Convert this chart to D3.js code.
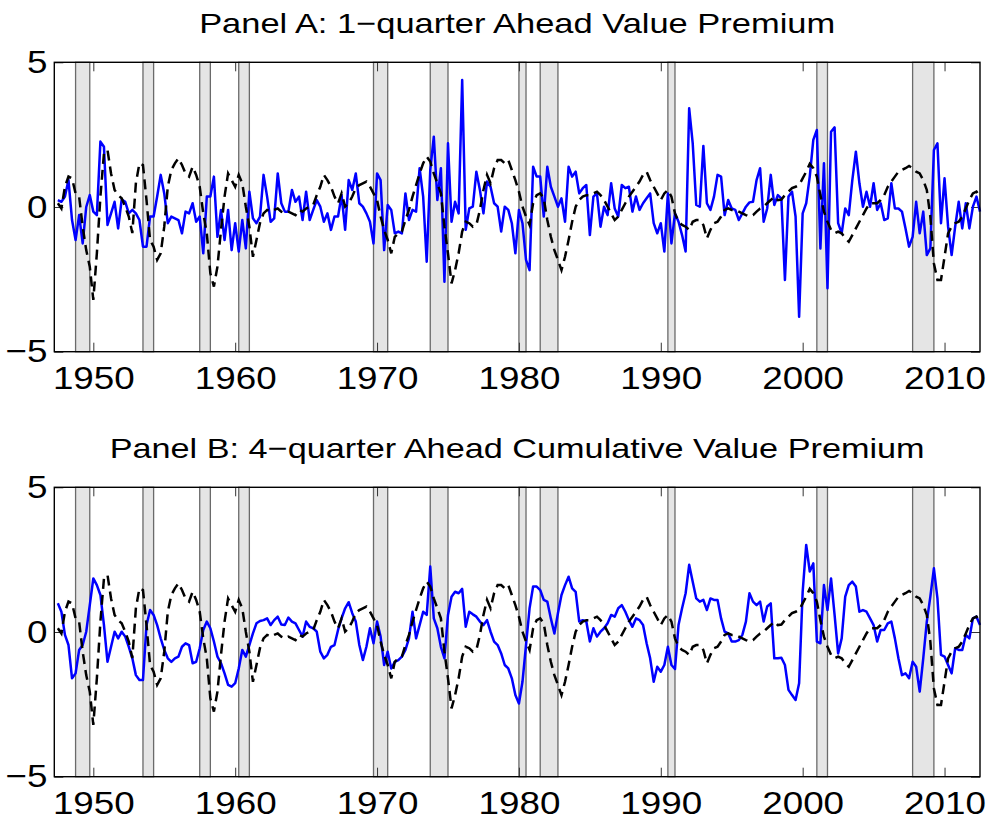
<!DOCTYPE html>
<html>
<head>
<meta charset="utf-8">
<script src="https://cdn.jsdelivr.net/npm/d3@7"></script>
<style>
  body { margin: 0; background: #fff }
  svg { display: block; font-family: 'Liberation Sans', Helvetica, Arial, sans-serif }
</style>
</head>
<body>
<svg id="chart" width="988" height="823"></svg>
<script>
// quarterly observations, first one at 1947.5, one every quarter
var firstQuarter = 1947.5

// Panel A, blue: 1-quarter ahead value premium
var premium1q = [
  0.24, 0.18, 0.36, 0.93, -0.45, -1.14, -0.28, -1.26, 0.0, 0.41,
  -0.16, -0.28, 2.26, 2.08, -0.62, -0.22, 0.18, -0.74, 0.26, 0.18,
  -0.22, -0.10, -0.22, -0.45, -1.37, -1.37, -0.33, -0.33, 0.36, 1.11,
  0.47, -0.56, -0.33, -0.39, -0.45, -0.91, -0.16, -0.22, 0.13, -0.51,
  -0.33, -1.60, 0.36, 0.36, 1.05, -1.03, -0.10, -1.14, -0.10, -1.49,
  -0.56, -1.54, -0.45, -1.43, 0.53, -0.39, -0.56,
  -0.33, 1.11, 0.36, -0.51, -0.39, 1.16, 0.13, -0.16, -0.16, 0.59,
  0.18, 0.36, -0.45, 0.53, -0.45, -0.10, 0.24, 0.01, -0.51, -0.22,
  -0.79, -0.33, -0.33, 0.41, -0.79, 0.93, 0.59, 1.16, 0.13, 0.01,
  -0.22, -0.51, -1.26, 1.16, 0.93, -1.49, 0.07, -0.10, -0.91, -0.85,
  -0.91, 0.47, -0.45, -0.10, -0.16, 1.34, 0.36, -1.89, 1.28, 2.43,
  0.24, 1.34, -2.58, 2.20, -0.51, 0.18, -0.22, 4.39, -0.79, -0.05,
  0.01, 1.22, 0.59, -0.22, 0.88, 0.70, 0.13, 0.01, -0.85, 0.01,
  -0.10, -0.56, -1.60, -0.10,
  -0.56, -1.83, -2.18, 1.39, 1.05, 1.05, -0.33, 1.39, 0.70, 0.36,
  0.01, 0.30, -0.51, 1.39, 1.05, 1.22, 0.47, 0.65, 0.76, -0.97,
  0.36, 0.47, -0.68, 0.01, -0.28, 0.82, -0.05, -0.33, 0.76, 0.65,
  0.70, -0.16, 0.36, -0.10, 0.13, 0.30, 0.47, -0.56, -0.91, -0.56,
  -1.54, 0.47, -1.26, -0.22, -0.51, -0.97, -1.54, 3.41, 2.20, 0.07,
  0.01, 2.11, 0.13, -0.10, 0.36, 1.11, 1.05, -0.28, 0.24, -0.05,
  -0.10, -0.45, -0.22, 0.01, 0.16, 0.18, 0.93, 1.34,
  -0.51, -0.05, 1.11, 0.07, 0.41, 0.30, -2.52, 0.36, 0.53, -0.33,
  -3.79, -0.22, 0.13, 1.05, 2.32, 2.66, -1.43, 1.51, -2.81, 2.60,
  2.75, -0.56, -0.91, -0.05, -0.28, 0.93, 1.91, 0.82, 0.01, 0.53,
  0.01, 0.82, -0.10, 0.13, -0.45, -0.39, 0.82, -0.05, -0.05, -0.16,
  -0.74, -1.37, -1.03, 0.18, -0.91, -0.16, -1.66, -1.43, 1.97, 2.20,
  -0.56, 0.99, -0.68, -1.66, -0.68, 0.18, -0.74, 0.13, -0.74, 0.01,
  0.36, -0.16
]

// Panel B, blue: 4-quarter ahead cumulative value premium
var premium4q = [
  0.99, 0.70, -0.10, -0.45, -1.60, -1.43, -0.62, -0.45, 0.01, 0.93,
  1.85, 1.62, 1.28, 0.24, -1.03, -0.51, 0.01, -0.22, 0.01, -0.16,
  -0.51, -0.91, -1.49, -1.66, -1.66, 0.24, 0.76, 0.59, 0.24, -0.22,
  -0.62, -0.91, -1.03, -0.91, -0.85, -0.51, -0.39, -0.45, -1.08, -1.03,
  -0.56, 0.07, 0.36, 0.13, -0.33, -0.85, -1.08, -1.43, -1.83, -1.89,
  -1.77, -1.26, -0.62, -0.85, -0.45, -0.05, 0.30,
  0.38, 0.41, 0.47, 0.24, 0.41, 0.53, 0.26, 0.24, 0.50, 0.36,
  0.30, 0.07, -0.16, 0.36, 0.18, 0.13, 0.01, -0.68, -0.91, -0.79,
  -0.51, -0.45, 0.07, 0.47, 0.82, 1.03, 0.65, 0.36, -0.45, -0.97,
  -0.51, 0.13, -0.39, 0.36, -0.16, -1.14, -0.68, -1.26, -1.03, -0.97,
  -0.85, -0.62, -0.22, 0.70, -0.22, 0.24, 0.70, 0.59, 2.26, 0.47,
  0.13, -0.51, -0.91, 0.59, 1.22, 1.39, 1.34, 1.49, 0.18, 0.70,
  0.61, 0.53, 0.36, 0.24, 0.41, 0.01, -0.33, -0.45, -0.74, -1.14,
  -1.26, -1.60, -2.18, -2.47,
  -1.72, -0.45, 0.82, 1.57, 1.57, 1.45, 1.11, 1.05, 0.47, -0.05,
  0.65, 1.28, 1.62, 1.91, 1.51, 1.39, 0.36, 0.41, 0.36, -0.33,
  0.13, -0.16, 0.01, 0.13, 0.30, 0.59, 0.53, 0.82, 0.93, 0.70,
  0.41, 0.18, 0.47, 0.41, 0.24, -0.39, -0.91, -1.72, -1.20, -1.37,
  -1.14, -0.51, -1.14, -1.28, 0.24, 0.82, 1.34, 2.32, 1.74, 1.16,
  1.05, 1.11, 0.76, 1.16, 1.11, 1.11, 0.47, 0.01, -0.05, -0.33,
  -0.33, -0.28, -0.10, 0.36, 1.34, 1.05, 0.93, 1.05,
  0.36, 0.88, 0.99, -0.91, -0.91, -0.89, -1.14, -2.00, -2.18, -2.35,
  -1.77, 1.39, 3.01, 2.09, 2.37, -0.33, -0.39, 1.62, 0.76, 1.85,
  0.59, -0.74, -0.22, 1.22, 1.62, 1.74, 1.57, 0.70, 0.76, 0.70,
  0.47, 0.24, -0.33, 0.07, 0.07, 0.30, 0.36, -0.22, -0.91, -1.49,
  -1.43, -1.60, -1.03, -1.20, -2.06, -0.91, 0.36, 1.22, 2.20, 1.16,
  -0.79, -0.85, -1.14, -1.43, -0.56, -0.62, -0.62, -0.10, -0.22, 0.47,
  0.53, 0.24
]

// black dashed line, same in both panels
var fitted = [
  0.13, -0.05, 0.70, 1.05, 0.99, 0.47, 0.36, -0.68, -1.49, -2.06,
  -3.21, -1.60, 0.36, 1.85, 1.97, 1.16, 0.59, 0.41, 0.30, 0.01,
  -0.33, -0.90, 0.82, 1.51, 1.45, 0.24, -1.14, -1.37, -1.83, -1.60,
  -0.68, 0.70, 1.28, 1.51, 1.68, 1.45, 1.16, 1.05, 1.39, 1.11,
  0.70, -0.22, -0.91, -2.29, -2.75, -2.06, -0.79, 0.36, 1.16, 0.93,
  0.70, 1.11, 0.82, 0.01, -0.68, -1.72, -1.14,
  -0.55, -0.22, -0.10, -0.16, -0.10, -0.05, -0.16, -0.22, -0.16, -0.22,
  -0.28, -0.10, -0.16, -0.05, 0.01, 0.07, 0.41, 0.70, 1.11, 0.93,
  0.70, 0.36, 0.13, 0.47, 0.01, 0.13, 0.36, 0.65, 0.76, 0.82,
  0.88, 0.70, 0.47, 0.24, -0.33, -0.79, -1.14, -1.60, -1.03, -0.91,
  -0.85, -0.45, -0.10, 0.36, 0.76, 1.16, 1.51, 1.74, 1.57, 1.16,
  0.82, 0.47, -0.68, -1.60, -2.64, -2.18, -1.60, -0.85, -0.51, -0.56,
  -0.68, -0.62, -0.10, 0.59, 1.11, 0.82, 1.34, 1.62, 1.62, 1.51,
  1.62, 1.28, 0.93, 0.53,
  0.01, -0.33, -0.62, 0.13, 0.41, 0.47, 0.30, -0.45, -1.03, -1.49,
  -1.83, -2.18, -1.72, -1.14, -0.51, 0.01, 0.24, 0.36, 0.41, 0.41,
  0.47, 0.53, 0.41, 0.24, 0.01, -0.22, -0.45, -0.33, -0.10, 0.13,
  0.36, 0.53, 0.70, 0.88, 1.11, 1.22, 0.93, 0.70, 0.47, 0.24,
  0.47, 0.59, 0.36, -0.22, -0.51, -0.62, -0.68, -0.79, -0.51, -0.45,
  -0.45, -0.62, -1.08, -0.79, -0.56, -0.51, -0.33, -0.10, -0.05, -0.10,
  -0.10, -0.16, -0.22, -0.28, -0.33, -0.28, -0.16, -0.05,
  0.01, 0.13, 0.24, 0.36, 0.24, 0.26, 0.41, 0.53, 0.65, 0.70,
  0.76, 0.99, 1.22, 1.49, 1.34, 1.05, 0.41, -0.16, -0.51, -0.79,
  -0.91, -0.85, -0.91, -1.08, -1.20, -0.97, -0.74, -0.51, -0.28, -0.05,
  0.13, 0.13, 0.13, 0.24, 0.41, 0.70, 0.88, 1.05, 1.22, 1.28,
  1.34, 1.42, 1.34, 1.22, 1.16, 0.93, 0.59, -0.33, -1.95, -2.52,
  -2.52, -1.72, -0.91, -0.68, -0.56, -0.51, -0.33, -0.05, 0.24, 0.47,
  0.53, 0.36
]

// NBER recessions, [start, end] in years
var recessions = [
  [1948.75, 1949.75], [1953.5, 1954.25], [1957.5, 1958.25], [1960.25, 1961.0],
  [1969.75, 1970.75], [1973.75, 1975.0], [1980.0, 1980.5], [1981.5, 1982.75],
  [1990.5, 1991.0], [2001.0, 2001.75], [2007.75, 2009.25]
]

var xTicks = [1950, 1960, 1970, 1980, 1990, 2000, 2010]
var yTicks = [-5, 0, 5]
var titles = [
  'Panel A: 1\u2212quarter Ahead Value Premium',
  'Panel B: 4\u2212quarter Ahead Cumulative Value Premium'
]

var svg = d3.select('#chart')
var left = 54.3, right = 980, plotH = 289.4
var x = d3.scaleLinear().domain([1947.25, 2012.5]).range([left, right])

// the reference text is drawn a little wide, so labels get stretched sideways
var labelStretch = 'scale(1.15,1)'

var panels = [
  { top: 62.3, title: titles[0], titleLen: 636, series: premium1q },
  { top: 487.3, title: titles[1], titleLen: 815, series: premium4q }
]

panels.forEach(function(p) {
  var y = d3.scaleLinear().domain([-5, 5]).range([p.top + plotH, p.top])
  var g = svg.append('g')

  var line = d3.line()
    .x(function(d, i) { return x(firstQuarter + i * 0.25) })
    .y(function(d) { return y(d) })

  g.append('text')
    .attr('x', (left + right) / 2)
    .attr('y', p.top - 29)
    .attr('text-anchor', 'middle')
    .attr('textLength', p.titleLen)
    .attr('lengthAdjust', 'spacingAndGlyphs')
    .style('font-size', '28.5px')
    .text(p.title)

  g.selectAll('rect.rec')
    .data(recessions)
    .enter()
    .append('rect')
    .attr('class', 'rec')
    .attr('x', function(d) { return x(d[0]) })
    .attr('width', function(d) { return x(d[1]) - x(d[0]) })
    .attr('y', p.top)
    .attr('height', plotH)
    .style('fill', '#e5e5e5')
    .style('stroke', '#6a6a6a')
    .style('stroke-width', 1.3)

  // inside ticks on all four sides, labels only bottom and left
  var xb = g.append('g')
    .attr('transform', 'translate(0,' + (p.top + plotH) + ')')
    .call(d3.axisBottom(x).tickValues(xTicks).tickFormat(d3.format('d'))
      .tickSizeInner(-9).tickSizeOuter(0).tickPadding(15))
  var xt = g.append('g')
    .attr('transform', 'translate(0,' + p.top + ')')
    .call(d3.axisTop(x).tickValues(xTicks).tickFormat('')
      .tickSizeInner(-9).tickSizeOuter(0))
  var yl = g.append('g')
    .attr('transform', 'translate(' + left + ',0)')
    .call(d3.axisLeft(y).tickValues(yTicks)
      .tickSizeInner(-9).tickSizeOuter(0).tickPadding(6))
  var yr = g.append('g')
    .attr('transform', 'translate(' + right + ',0)')
    .call(d3.axisRight(y).tickValues(yTicks).tickFormat('')
      .tickSizeInner(-9).tickSizeOuter(0))

  ;[xb, xt, yl, yr].forEach(function(a) {
    a.select('.domain').remove()
    a.selectAll('line').style('stroke', '#333').style('stroke-width', 1)
    a.selectAll('text')
      .attr('transform', labelStretch)
      .style('font-size', '32px')
      .style('font-family', "'Liberation Sans', Helvetica, Arial, sans-serif")
      .style('fill', '#000')
  })

  g.append('path')
    .datum(p.series)
    .attr('d', line)
    .style('fill', 'none')
    .style('stroke', '#0000ff')
    .style('stroke-width', 2.5)
    .style('stroke-linejoin', 'round')

  g.append('path')
    .datum(fitted)
    .attr('d', line)
    .style('fill', 'none')
    .style('stroke', '#000')
    .style('stroke-width', 2.5)
    .style('stroke-dasharray', '10,6')

  g.append('rect')
    .attr('x', left)
    .attr('y', p.top)
    .attr('width', right - left)
    .attr('height', plotH)
    .style('fill', 'none')
    .style('stroke', '#000')
    .style('stroke-width', 1.4)
})
</script>
</body>
</html>
